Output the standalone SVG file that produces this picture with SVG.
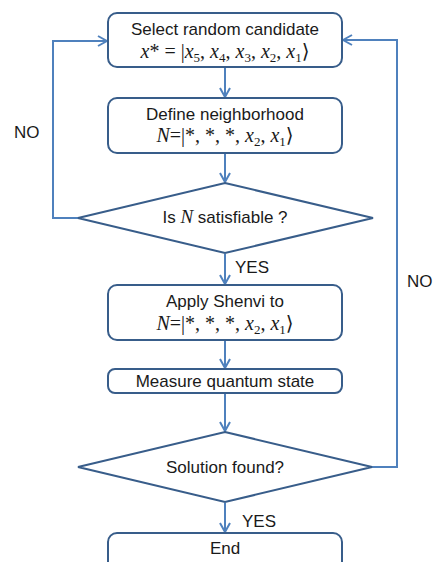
<svg xmlns="http://www.w3.org/2000/svg" width="435" height="562" viewBox="0 0 435 562">
<defs>
<style>
.box{fill:#fff;stroke:#385D8A;stroke-width:2}
.dia{fill:#fff;stroke:#385D8A;stroke-width:2}
.con{fill:none;stroke:#4F81BD;stroke-width:2}
.t{font-family:"Liberation Sans","DejaVu Sans",sans-serif;font-size:17px;fill:#1a1a1a;text-anchor:middle}
.lbl{font-family:"Liberation Sans","DejaVu Sans",sans-serif;font-size:17px;fill:#1a1a1a}
.m{font-family:"Liberation Serif","DejaVu Serif",serif;font-size:20px;fill:#1a1a1a;text-anchor:middle}
.i{font-style:italic}
.s{font-size:13px}
</style>
<marker id="arr" viewBox="0 0 12 12" refX="11" refY="6" markerWidth="12" markerHeight="12" markerUnits="userSpaceOnUse" orient="auto">
<path d="M2,1 L11,6 L2,11" fill="none" stroke="#4F81BD" stroke-width="2"/>
</marker>
</defs>
<rect width="435" height="562" fill="#fff"/>
<g id="connectors">
<line class="con" x1="225" y1="68" x2="225" y2="97" marker-end="url(#arr)"/>
<line class="con" x1="225" y1="154" x2="225" y2="182" marker-end="url(#arr)"/>
<line class="con" x1="225" y1="254" x2="225" y2="284" marker-end="url(#arr)"/>
<line class="con" x1="225" y1="341" x2="225" y2="368" marker-end="url(#arr)"/>
<line class="con" x1="225" y1="394" x2="225" y2="431" marker-end="url(#arr)"/>
<line class="con" x1="225" y1="503" x2="225" y2="532" marker-end="url(#arr)"/>
<polyline class="con" points="78,218 53,218 53,41 107,41" marker-end="url(#arr)"/>
<polyline class="con" points="372,467 397,467 397,40 343,40" marker-end="url(#arr)"/>
<text class="lbl" x="14" y="138">NO</text>
<text class="lbl" x="407" y="287">NO</text>
<text class="lbl" x="235" y="273">YES</text>
<text class="lbl" x="242" y="527">YES</text>
</g>
<g id="select">
<rect class="box" x="108" y="13" width="234" height="54" rx="9"/>
<text class="t" x="225" y="35">Select random candidate</text>
<text class="m" x="225" y="58"><tspan class="i">x</tspan>* = |<tspan class="i">x</tspan><tspan class="s" dy="4">5</tspan><tspan dy="-4">, </tspan><tspan class="i">x</tspan><tspan class="s" dy="4">4</tspan><tspan dy="-4">, </tspan><tspan class="i">x</tspan><tspan class="s" dy="4">3</tspan><tspan dy="-4">, </tspan><tspan class="i">x</tspan><tspan class="s" dy="4">2</tspan><tspan dy="-4">, </tspan><tspan class="i">x</tspan><tspan class="s" dy="4">1</tspan><tspan dy="-4">⟩</tspan></text>
</g>
<g id="define">
<rect class="box" x="108" y="98" width="234" height="55" rx="9"/>
<text class="t" x="225" y="120">Define neighborhood</text>
<text class="m" x="225" y="142"><tspan class="i">N</tspan>=|*, *, *, <tspan class="i">x</tspan><tspan class="s" dy="4">2</tspan><tspan dy="-4">, </tspan><tspan class="i">x</tspan><tspan class="s" dy="4">1</tspan><tspan dy="-4">⟩</tspan></text>
</g>
<g id="sat">
<polygon class="dia" points="225,183 373,218 225,253 78,218"/>
<text class="t" x="225" y="223">Is <tspan class="i" font-family="Liberation Serif, serif" font-size="19">N</tspan> satisfiable ?</text>
</g>
<g id="apply">
<rect class="box" x="108" y="285" width="234" height="55" rx="9"/>
<text class="t" x="225" y="307">Apply Shenvi to</text>
<text class="m" x="225" y="330"><tspan class="i">N</tspan>=|*, *, *, <tspan class="i">x</tspan><tspan class="s" dy="4">2</tspan><tspan dy="-4">, </tspan><tspan class="i">x</tspan><tspan class="s" dy="4">1</tspan><tspan dy="-4">⟩</tspan></text>
</g>
<g id="measure">
<rect class="box" x="108" y="369" width="234" height="24" rx="7"/>
<text class="t" x="225" y="387">Measure quantum state</text>
</g>
<g id="found">
<polygon class="dia" points="225,432 372,467 225,502 78,467"/>
<text class="t" x="225" y="473">Solution found?</text>
</g>
<g id="end">
<rect class="box" x="108" y="533" width="234" height="50" rx="9"/>
<text class="t" x="225" y="554">End</text>
</g>
</svg>
